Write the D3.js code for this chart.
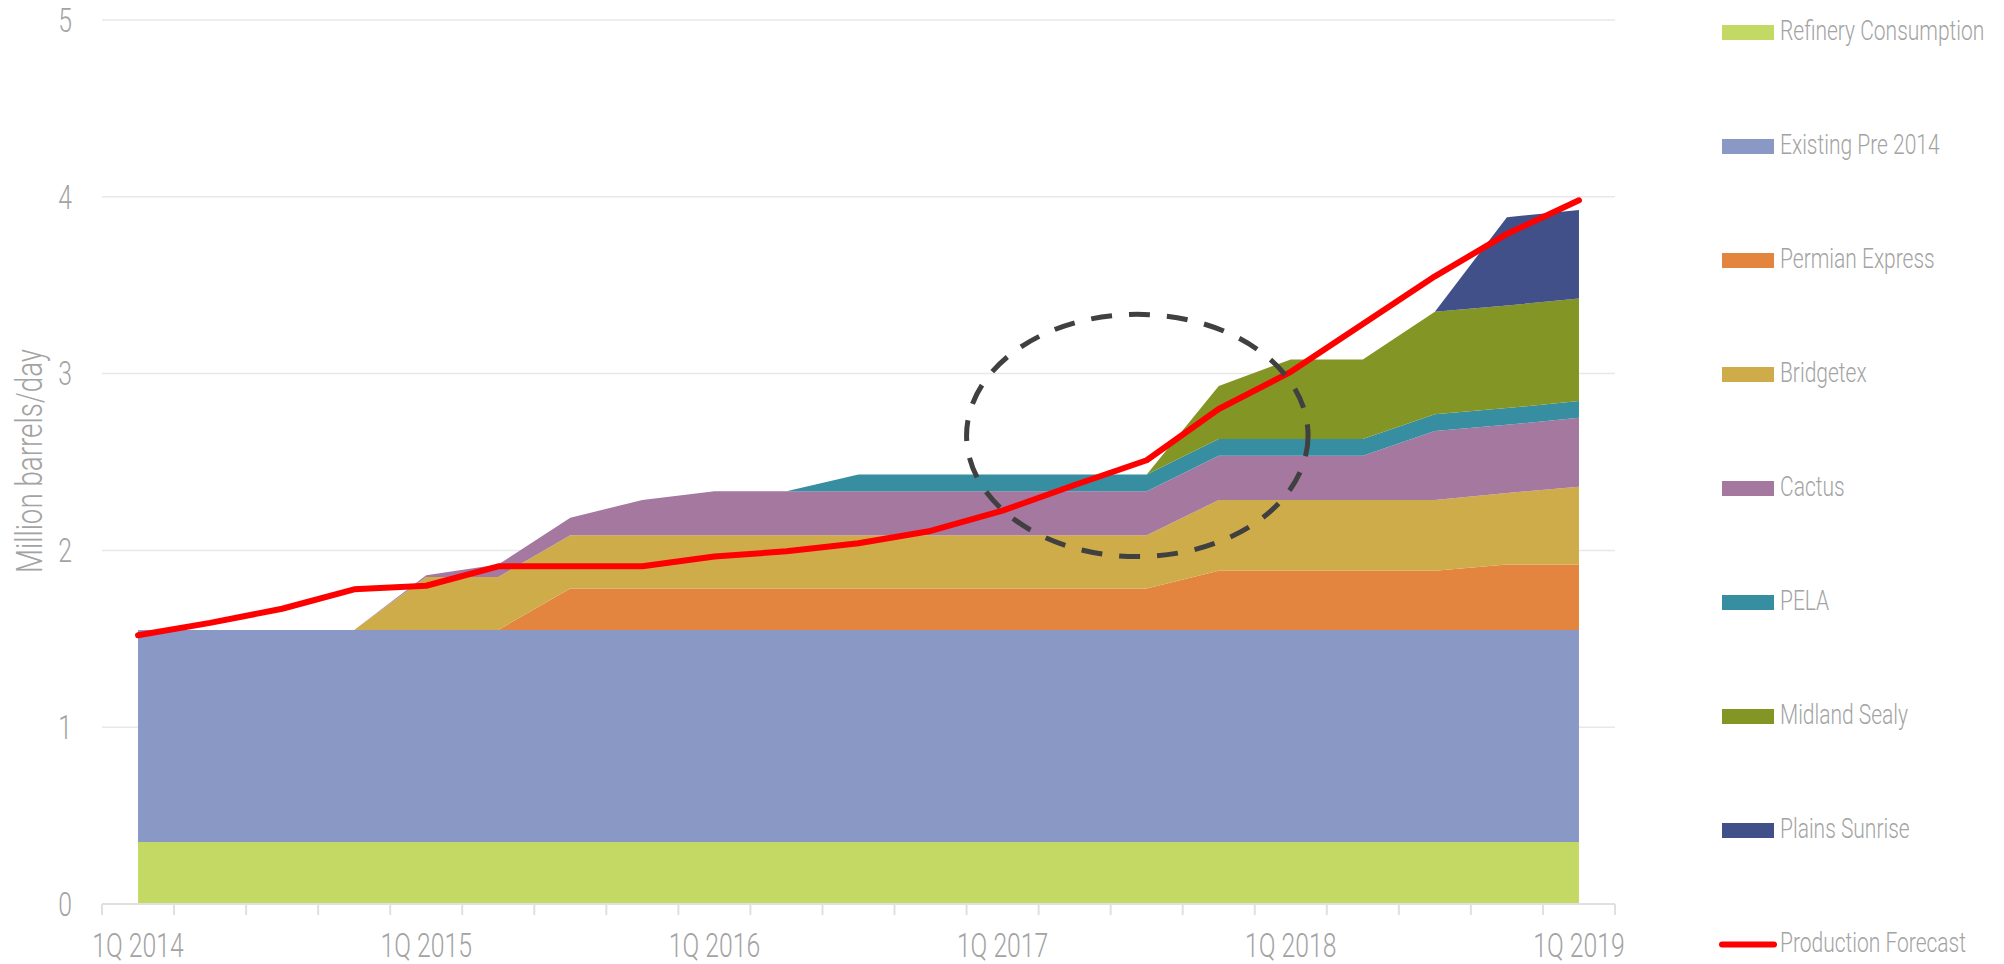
<!DOCTYPE html>
<html>
<head>
<meta charset="utf-8">
<script src="https://cdn.jsdelivr.net/npm/d3@7"></script>
<style>
  body { margin: 0; background: #fff; }
  text { font-family: Roboto, "Liberation Sans", sans-serif; font-weight: 300; fill: #a3a3a3; }
</style>
</head>
<body>
<div id="chart"></div>
<script>
const quarters = [
  "1Q 2014", "2Q 2014", "3Q 2014", "4Q 2014",
  "1Q 2015", "2Q 2015", "3Q 2015", "4Q 2015",
  "1Q 2016", "2Q 2016", "3Q 2016", "4Q 2016",
  "1Q 2017", "2Q 2017", "3Q 2017", "4Q 2017",
  "1Q 2018", "2Q 2018", "3Q 2018", "4Q 2018",
  "1Q 2019"
]
const tickLabels = ["1Q 2014", "1Q 2015", "1Q 2016", "1Q 2017", "1Q 2018", "1Q 2019"]
const yTicks = [0, 1, 2, 3, 4, 5]

// million barrels/day, one value per quarter
const refinery = [0.35, 0.35, 0.35, 0.35, 0.35, 0.35, 0.35, 0.35, 0.35, 0.35, 0.35, 0.35, 0.35, 0.35, 0.35, 0.35, 0.35, 0.35, 0.35, 0.35, 0.35]
const existing = [1.2, 1.2, 1.2, 1.2, 1.2, 1.2, 1.2, 1.2, 1.2, 1.2, 1.2, 1.2, 1.2, 1.2, 1.2, 1.2, 1.2, 1.2, 1.2, 1.2, 1.2]
const permian = [0, 0, 0, 0, 0, 0, 0.235, 0.235, 0.235, 0.235, 0.235, 0.235, 0.235, 0.235, 0.235, 0.335, 0.335, 0.335, 0.335, 0.37, 0.37]
const bridgetex = [0, 0, 0, 0, 0.3, 0.3, 0.3, 0.3, 0.3, 0.3, 0.3, 0.3, 0.3, 0.3, 0.3, 0.4, 0.4, 0.4, 0.4, 0.405, 0.44]
const cactus = [0, 0, 0, 0, 0.01, 0.07, 0.1, 0.2, 0.25, 0.25, 0.25, 0.25, 0.25, 0.25, 0.25, 0.25, 0.25, 0.25, 0.39, 0.385, 0.39]
const pela = [0, 0, 0, 0, 0, 0, 0, 0, 0, 0, 0.095, 0.095, 0.095, 0.095, 0.095, 0.095, 0.095, 0.095, 0.095, 0.095, 0.095]
const midland = [0, 0, 0, 0, 0, 0, 0, 0, 0, 0, 0, 0, 0, 0, 0, 0.3, 0.45, 0.45, 0.58, 0.58, 0.58]
const plains = [0, 0, 0, 0, 0, 0, 0, 0, 0, 0, 0, 0, 0, 0, 0, 0, 0, 0, 0, 0.5, 0.5]
const forecast = [1.52, 1.59, 1.67, 1.78, 1.8, 1.91, 1.91, 1.91, 1.965, 1.995, 2.04, 2.11, 2.225, 2.37, 2.51, 2.8, 3.01, 3.28, 3.55, 3.79, 3.98]

const seriesNames = ["Refinery Consumption", "Existing Pre 2014", "Permian Express", "Bridgetex", "Cactus", "PELA", "Midland Sealy", "Plains Sunrise"]
const seriesValues = [refinery, existing, permian, bridgetex, cactus, pela, midland, plains]
const seriesColors = ["#c4d964", "#8a98c6", "#e3853e", "#cfac4a", "#a4789f", "#378ea0", "#839625", "#415089"]
const forecastName = "Production Forecast"

// dashed ring around 2017 (quarter index, value) and its radii
const ringCenter = [13.87, 2.65]
const ringRadius = [2.37, 0.685]

const W = 2004
const H = 964
const plot = { left: 102, right: 1615, top: 20, bottom: 904 }
const squeeze = "scale(0.75,1)" // condensed look for all text

const rows = quarters.map((q, i) => {
  const row = { quarter: q }
  seriesNames.forEach((name, s) => { row[name] = seriesValues[s][i] })
  return row
})

const svg = d3.select("#chart").append("svg")
  .attr("width", W)
  .attr("height", H)

const x = d3.scaleBand().domain(quarters).range([plot.left, plot.right]).paddingInner(0).paddingOuter(0)
const xc = (q) => x(q) + x.bandwidth() / 2
const y = d3.scaleLinear().domain([0, 5]).range([plot.bottom, plot.top])

// gridlines
svg.append("g")
  .selectAll("line")
  .data(yTicks.filter((d) => d > 0))
  .join("line")
  .attr("x1", plot.left)
  .attr("x2", plot.right)
  .attr("y1", (d) => y(d))
  .attr("y2", (d) => y(d))
  .attr("stroke", "#e8e8e8")
  .attr("stroke-width", 1.5)

// y labels
svg.append("g")
  .selectAll("text")
  .data(yTicks)
  .join("text")
  .attr("transform", (d) => `translate(72,${y(d)}) ${squeeze}`)
  .attr("dy", "0.36em")
  .attr("text-anchor", "end")
  .style("font-size", "33px")
  .text((d) => d)

svg.append("text")
  .attr("transform", `translate(42,461) rotate(-90) ${squeeze}`)
  .attr("text-anchor", "middle")
  .style("font-size", "37px")
  .text("Million barrels/day")

// stacked areas
const stack = d3.stack().keys(seriesNames)
const layers = stack(rows)

const area = d3.area()
  .x((d) => xc(d.data.quarter))
  .y0((d) => y(d[0]))
  .y1((d) => y(d[1]))

svg.append("g")
  .selectAll("path")
  .data(layers)
  .join("path")
  .attr("d", area)
  .attr("fill", (d, i) => seriesColors[i])

// x axis line + ticks at band edges
const xAxisG = svg.append("g")
xAxisG.append("line")
  .attr("x1", plot.left)
  .attr("x2", plot.right)
  .attr("y1", y(0))
  .attr("y2", y(0))
  .attr("stroke", "#e0e0e0")
  .attr("stroke-width", 2)

const edges = quarters.map((q) => x(q)).concat([plot.right])
xAxisG.selectAll("line.tick")
  .data(edges)
  .join("line")
  .attr("class", "tick")
  .attr("x1", (d) => d)
  .attr("x2", (d) => d)
  .attr("y1", y(0))
  .attr("y2", y(0) + 11)
  .attr("stroke", "#e0e0e0")
  .attr("stroke-width", 2)

const xAxis = d3.axisBottom(x).tickValues(tickLabels).tickSize(0).tickPadding(30)
const gx = svg.append("g").attr("transform", `translate(0,${y(0)})`).call(xAxis)
gx.select(".domain").remove()
gx.selectAll("text")
  .attr("fill", "#a3a3a3")
  .attr("transform", squeeze)
  .style("font-size", "33px")
  .style("font-family", "Roboto, 'Liberation Sans', sans-serif")
  .style("font-weight", 300)

// production forecast line
const line = d3.line()
  .x((d, i) => xc(quarters[i]))
  .y((d) => y(d))

svg.append("path")
  .datum(forecast)
  .attr("d", line)
  .attr("fill", "none")
  .attr("stroke", "#ff0000")
  .attr("stroke-width", 6)
  .attr("stroke-linejoin", "round")
  .attr("stroke-linecap", "round")

// dashed ring annotation
const step = x.step()
svg.append("ellipse")
  .attr("cx", xc(quarters[0]) + ringCenter[0] * step)
  .attr("cy", y(ringCenter[1]))
  .attr("rx", ringRadius[0] * step)
  .attr("ry", y(0) - y(ringRadius[1]))
  .attr("fill", "none")
  .attr("stroke", "#404040")
  .attr("stroke-width", 5)
  .attr("stroke-dasharray", "21,17")

// legend
const legend = svg.append("g").attr("transform", "translate(1722,0)")
const legendItems = seriesNames.concat([forecastName])
const rowY = (i) => 32.5 + i * 114

const item = legend.selectAll("g")
  .data(legendItems)
  .join("g")
  .attr("transform", (d, i) => `translate(0,${rowY(i)})`)

item.filter((d) => d !== forecastName)
  .append("rect")
  .attr("x", 0)
  .attr("y", -7.5)
  .attr("width", 52)
  .attr("height", 15)
  .attr("fill", (d, i) => seriesColors[i])

item.filter((d) => d === forecastName)
  .append("line")
  .attr("x1", 0)
  .attr("x2", 52)
  .attr("stroke", "#ff0000")
  .attr("stroke-width", 6)
  .attr("stroke-linecap", "round")

item.append("text")
  .attr("transform", `translate(58,7) ${squeeze}`)
  .style("font-size", "28px")
  .text((d) => d)
</script>
</body>
</html>
